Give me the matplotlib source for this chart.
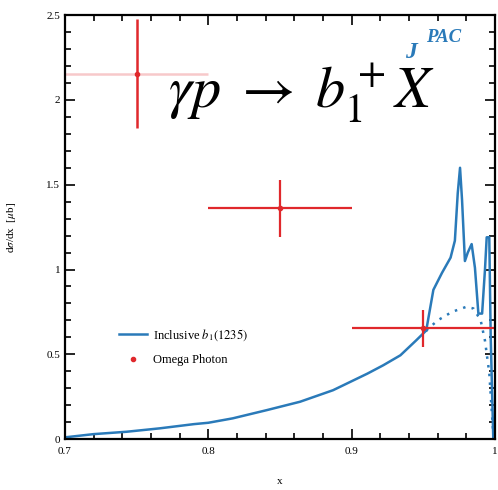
import matplotlib
matplotlib.use("Agg")
import matplotlib.pyplot as plt
from matplotlib.ticker import MultipleLocator

plt.rcParams['font.family'] = ['Liberation Serif', 'DejaVu Serif']
plt.rcParams['mathtext.fontset'] = 'stix'

# model curve, below the split
x_low = [0.70, 0.72, 0.743, 0.766, 0.79, 0.80, 0.817, 0.841, 0.864, 0.887, 0.899,
         0.911, 0.922, 0.934, 0.945, 0.952]
y_low = [0.01, 0.029, 0.043, 0.063, 0.088, 0.096, 0.122, 0.171, 0.22, 0.288, 0.337,
         0.386, 0.435, 0.494, 0.582, 0.64]

# upper (solid) branch near the endpoint
x_up = [0.952, 0.957, 0.963, 0.969, 0.972, 0.974, 0.9756, 0.977, 0.979, 0.981, 0.9837,
        0.986, 0.9884, 0.991, 0.993, 0.9942, 0.996, 0.997, 0.9988]
y_up = [0.64, 0.88, 0.98, 1.07, 1.17, 1.45, 1.60, 1.41, 1.05, 1.10, 1.15,
        1.01, 0.74, 0.74, 1.00, 1.19, 1.19, 0.60, 0.0]

# lower (dotted) branch
x_dot = [0.952, 0.96, 0.97, 0.98, 0.985, 0.99, 0.993, 0.996, 0.999]
y_dot = [0.64, 0.70, 0.75, 0.78, 0.77, 0.70, 0.58, 0.39, 0.0]

# Omega Photon data
x_data = [0.75, 0.85, 0.95]
y_data = [2.155, 1.36, 0.653]
x_err = [0.05, 0.05, 0.05]
y_err = [0.32, 0.17, 0.11]

blue = '#2a7ab9'
red = '#e0282c'

fig = plt.figure(figsize=(4.98, 4.90), dpi=100)
ax = fig.add_axes([0.1305, 0.104, 0.8635, 0.865])

ax.plot(x_low, y_low, color=blue, lw=1.8, label=r'Inclusive $b_1(1235)$')
ax.plot(x_up, y_up, color=blue, lw=1.8)
ax.plot(x_dot, y_dot, color=blue, lw=1.8, ls=(0, (1, 2.5)))

# first point has a faint horizontal bar
ax.errorbar(x_data[:1], y_data[:1], xerr=x_err[:1], fmt='none', ecolor=red, alpha=0.25, elinewidth=1.8)
ax.errorbar(x_data[:1], y_data[:1], yerr=y_err[:1], fmt='none', ecolor=red, elinewidth=1.8)
ax.errorbar(x_data[1:], y_data[1:], xerr=x_err[1:], yerr=y_err[1:], fmt='none',
            ecolor=red, elinewidth=1.6)
ax.plot(x_data, y_data, 'o', color=red, ms=3, label='Omega Photon')

ax.set_xlim(0.7, 1.0)
ax.set_ylim(0, 2.5)
ax.xaxis.set_minor_locator(MultipleLocator(0.02))
ax.yaxis.set_minor_locator(MultipleLocator(0.1))
ax.set_xticks([0.7, 0.8, 0.9, 1.0])
ax.set_xticklabels(['0.7', '0.8', '0.9', '1'])
ax.set_yticks([0, 0.5, 1, 1.5, 2, 2.5])
ax.set_yticklabels(['0', '0.5', '1', '1.5', '2', '2.5'])
ax.tick_params(which='both', direction='in', top=True, right=True, labelsize=8, width=1.2)
ax.tick_params(which='major', length=7)
ax.tick_params(which='minor', length=4)
ax.tick_params(axis='x', pad=6)
for s in ax.spines.values():
    s.set_linewidth(1.6)

ax.set_xlabel('x', fontsize=8, labelpad=15)
ax.set_ylabel(r'd$\sigma$/dx  [$\mu$b]', fontsize=8, labelpad=20)

ax.legend(loc='upper left', bbox_to_anchor=(0.1, 0.29), frameon=False, fontsize=9,
          handlelength=2.2, labelspacing=0.9, handletextpad=0.5)

ax.text(0.24, 0.783, r'$\gamma p\;\rightarrow\;b_1^+X$', transform=ax.transAxes,
        fontsize=42, color='black')

ax.text(0.79, 0.9, 'J', transform=ax.transAxes, fontsize=17, color=blue,
        fontweight='bold', style='italic', family='Liberation Serif')
ax.text(0.84, 0.937, 'PAC', transform=ax.transAxes, fontsize=13.5, color=blue,
        fontweight='bold', style='italic', family='Liberation Serif')

fig.savefig('out.png', dpi=100)
